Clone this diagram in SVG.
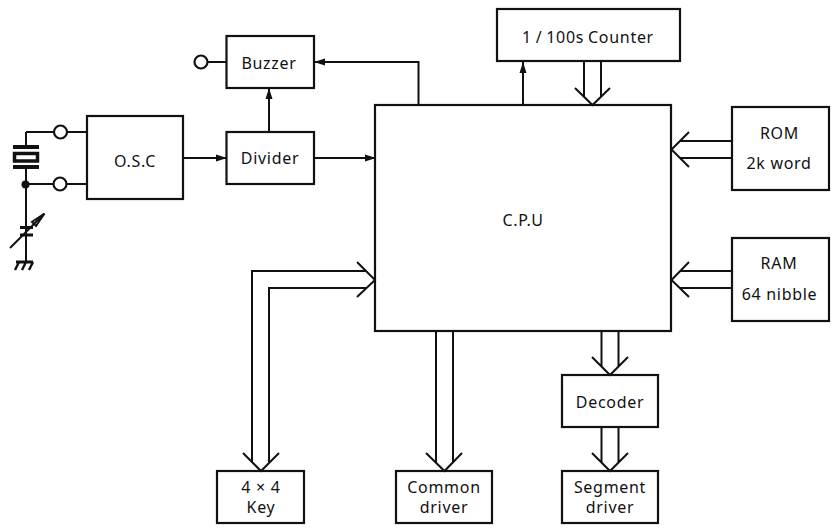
<svg xmlns="http://www.w3.org/2000/svg" width="831" height="528" viewBox="0 0 831 528">
<style>
rect.b{fill:#fff;stroke:#111;stroke-width:2.2}
text{font-family:"Noto Sans","Open Sans",sans-serif;font-size:16px;fill:#111;text-anchor:middle;letter-spacing:.7px}
.c path,.s path{fill:none;stroke:#111;stroke-width:2}
.c path.a{fill:#111;stroke:none}
circle.t{fill:#fff;stroke:#111;stroke-width:2.2}
</style>
<rect width="831" height="528" fill="#fff"/>
<g id="cpu"><rect class="b" x="375" y="105" width="296" height="226"/><text x="523" y="226">C.P.U</text></g>
<g id="osc"><rect class="b" x="87" y="116" width="96" height="83"/><text x="135" y="167">O.S.C</text></g>
<g id="divider"><rect class="b" x="226.500" y="132" width="87.500" height="52"/><text x="270" y="164">Divider</text></g>
<g id="buzzer"><rect class="b" x="226.500" y="36" width="87.500" height="52"/><text x="269" y="69">Buzzer</text></g>
<g id="counter"><rect class="b" x="497" y="9" width="183" height="52"/><text x="588" y="43" word-spacing="-1">1 / 100s Counter</text></g>
<g id="rom"><rect class="b" x="732" y="107" width="97" height="83"/><text x="779.500" y="139">ROM</text><text x="779" y="169">2k word</text></g>
<g id="ram"><rect class="b" x="732" y="238" width="97" height="83"/><text x="779" y="269">RAM</text><text x="779.500" y="300">64 nibble</text></g>
<g id="decoder"><rect class="b" x="562" y="375" width="96" height="52"/><text x="610" y="408">Decoder</text></g>
<g id="segment"><rect class="b" x="562" y="471" width="96" height="52"/><text x="610" y="493">Segment</text><text x="610" y="513">driver</text></g>
<g id="key"><rect class="b" x="217" y="471" width="87" height="52"/><text x="261" y="493">4 × 4</text><text x="261" y="513">Key</text></g>
<g id="common"><rect class="b" x="396" y="471" width="96" height="52"/><text x="444" y="493">Common</text><text x="444" y="513">driver</text></g>
<g id="connectors" class="c">
<path d="M183 158H226M314 158H375M269 132V88M418.500 104V62H314M523 104V62"/>
<path class="a" d="M227 158l-11-3.500v7zM376 158l-11-3.500v7zM269 88l-3.500 11h7zM314 62l11-3.500v7zM523 62l-3.500 11h7z"/>
<path d="M584 62V97M601 62V97M575 88L592.500 105L610 88"/>
<path d="M731 141H680M731 158H680M689 132L671.500 149.500L689 167"/>
<path d="M731 271H680M731 288H680M689 262L671.500 280L689 297"/>
<path d="M601.500 332V366M618.500 332V366M592 357L610 375L628 357"/>
<path d="M601.500 428V462M618.500 428V462M592 453L610 471L628 453"/>
<path d="M436 332V462M453 332V462M426 453L444.500 471L462 453"/>
<path d="M252 462V271H366M269 462V288H366M357 262L375 280L357 297M243 453L261 471L279 453"/>
<path d="M60 132H87M60 184H87M26 184H54M207 62H226"/>
</g>
<g id="t-buzzer"><circle class="t" cx="201" cy="62" r="6.500"/></g>
<g id="t-osc1"><circle class="t" cx="60.500" cy="132" r="6.500"/></g>
<g id="t-osc2"><circle class="t" cx="60" cy="184" r="6.500"/></g>
<g id="oscillator-circuit" class="s">
<path d="M26 132H54M26 132V145M26 169V262"/>
<path d="M13 147H39M13 167H39" style="stroke-width:4"/>
<rect x="14.500" y="153.500" width="23" height="7.500" fill="#fff" stroke="#111" stroke-width="3.500"/>
<circle cx="25.500" cy="184.500" r="4" fill="#111"/>
<path d="M20 227.500H33M20 235H33" style="stroke-width:3"/>
<path d="M10 248L44 214"/>
<path d="M44.500 213.500L32 222L36 226Z" fill="#111"/>
<path d="M16 262H33" style="stroke-width:3"/>
<path d="M19 262L15 270M26 262L22 270M33 262L29 270" style="stroke-width:2.400"/>
</g>
</svg>
